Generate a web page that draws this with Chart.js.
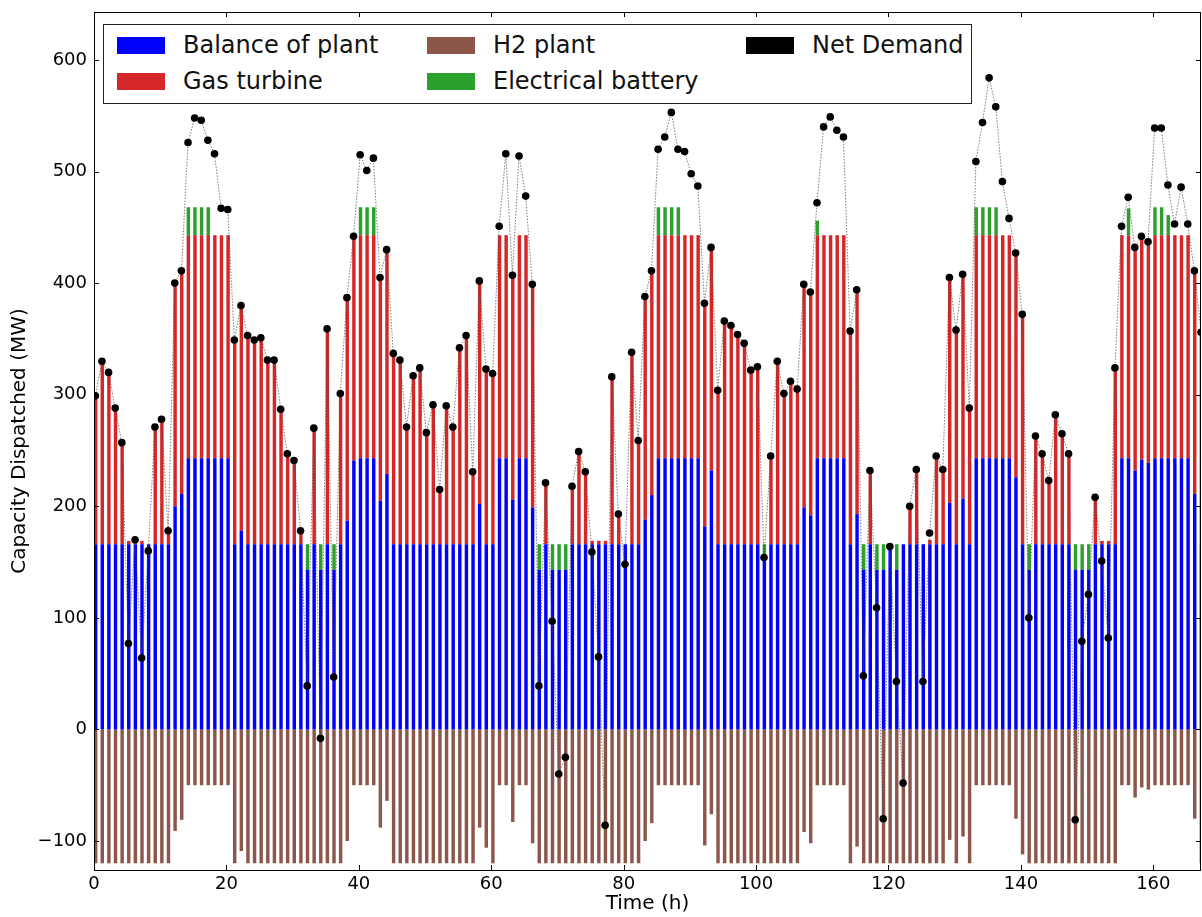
<!DOCTYPE html>
<html>
<head>
<meta charset="utf-8">
<script src="https://cdn.jsdelivr.net/npm/chart.js@4.4.0/dist/chart.umd.min.js"></script>
<style>
  html, body { margin: 0; padding: 0; background: #fff; }
  #wrap { position: relative; width: 1202px; height: 917px; }
  #legend {
    position: absolute; left: 103px; top: 24px; width: 869px; height: 80px;
    border: 1px solid #222; box-sizing: border-box; background: #fff;
    font-family: 'DejaVu Sans', sans-serif; font-size: 24px; color: #111;
  }
  .item { position: absolute; display: flex; align-items: center; white-space: nowrap; line-height: 28px; }
  .sw { width: 48px; height: 17px; margin-right: 18px; }
</style>
</head>
<body>
<div id="wrap">
  <canvas id="dispatch" width="1202" height="917"></canvas>
  <div id="legend"></div>
</div>
<script>
// hourly values (MW), hour 0 .. 167
var balanceOfPlant = [
  166,166,166,166,166,166,166,166,166,166,166,166,200,211,243,243,243,243,243,243,
  243,166,178,166,166,166,166,166,166,166,166,166,143,166,143,166,143,166,187,241,
  243,243,243,205,229,166,166,166,166,166,166,166,166,166,166,166,166,166,202,166,
  166,243,243,206,243,243,199,143,166,143,143,143,166,166,166,166,166,166,166,166,
  166,166,166,188,210,243,243,243,243,243,243,243,182,232,166,166,166,166,166,166,
  166,152,166,166,166,166,166,199,192,243,243,243,243,243,166,193,143,166,143,143,
  166,143,166,166,166,166,166,166,166,203,166,207,166,243,243,243,243,243,243,226,
  166,143,166,166,166,166,166,166,143,143,143,166,166,166,166,243,243,232,242,239,
  243,243,243,243,243,243,211,166
];
var gasTurbine = [
  133,164,154,122,91,3,4,3,0,105,112,12,200,200,200,200,200,200,200,200,
  200,183,202,187,183,185,165,165,121,81,75,12,0,104,0,193,0,135,200,202,
  200,200,200,200,201,171,165,105,151,158,100,125,49,124,105,176,187,65,200,157,
  153,200,200,201,200,200,200,0,55,0,0,0,52,83,65,3,3,3,150,27,
  0,172,93,200,201,200,200,200,200,200,200,200,200,200,138,200,196,188,180,156,
  159,0,79,164,135,146,139,200,200,200,200,200,200,200,191,200,0,66,0,0,
  0,0,0,34,67,0,4,79,67,202,192,201,122,200,200,200,200,200,200,201,
  206,0,97,81,57,116,99,81,0,0,0,42,3,3,158,200,200,200,200,198,
  200,200,200,200,200,200,200,190
];
var electricalBattery = [
  0,0,0,0,0,0,0,0,0,0,0,0,0,0,25,25,25,25,0,0,
  0,0,0,0,0,0,0,0,0,0,0,0,23,0,23,0,23,0,0,0,
  25,25,25,0,0,0,0,0,0,0,0,0,0,0,0,0,0,0,0,0,
  0,0,0,0,0,0,0,23,0,23,23,23,0,0,0,0,0,0,0,0,
  0,0,0,0,0,25,25,25,25,0,0,0,0,0,0,0,0,0,0,0,
  0,14,0,0,0,0,0,0,0,13,0,0,0,0,0,0,23,0,23,23,
  0,23,0,0,0,0,0,0,0,0,0,0,0,25,25,25,25,0,0,0,
  0,23,0,0,0,0,0,0,23,23,23,0,0,0,0,0,24,0,0,0,
  25,25,18,0,0,0,0,0
];
var h2Plant = [
  -120,-120,-120,-120,-120,-120,-120,-120,-120,-120,-120,-120,-91,-81,-50,-50,-50,-50,-50,-50,
  -50,-120,-109,-120,-120,-120,-120,-120,-120,-120,-120,-120,-120,-120,-120,-120,-120,-120,-100,-50,
  -50,-50,-50,-88,-64,-120,-120,-120,-120,-120,-120,-120,-120,-120,-120,-120,-120,-120,-88,-106,
  -120,-50,-50,-83,-50,-50,-102,-120,-120,-120,-120,-120,-120,-120,-120,-120,-120,-120,-120,-120,
  -120,-120,-120,-100,-84,-50,-50,-50,-50,-50,-50,-50,-104,-76,-120,-120,-120,-120,-120,-120,
  -120,-120,-120,-120,-120,-120,-120,-92,-102,-50,-50,-50,-50,-50,-120,-105,-120,-120,-120,-120,
  -120,-120,-120,-120,-120,-120,-120,-120,-120,-99,-120,-96,-120,-50,-50,-50,-50,-50,-50,-80,
  -112,-120,-120,-120,-120,-120,-120,-120,-120,-120,-120,-120,-120,-120,-120,-50,-50,-61,-52,-54,
  -50,-50,-50,-50,-50,-50,-80,-120
];
var netDemand = [
  299,330,320,288,257,77,170,64,160,271,278,178,400,411,526,548,546,528,516,467,
  466,349,380,353,349,351,331,331,287,247,241,178,39,270,-8,359,47,301,387,442,
  515,501,512,405,430,337,331,271,317,324,266,291,215,290,271,342,353,231,402,323,
  319,451,516,407,514,478,399,39,221,97,-40,-25,218,249,231,159,65,-86,316,193,
  148,338,259,388,411,520,531,553,520,518,498,487,382,432,304,366,362,354,346,322,
  325,154,245,330,301,312,305,399,392,472,540,549,537,531,357,394,48,232,109,-80,
  164,43,-48,200,233,43,176,245,233,405,358,408,288,509,544,584,558,491,458,427,
  372,100,263,247,223,282,265,247,-81,79,121,208,151,82,324,451,477,432,442,437,
  539,539,488,453,486,453,411,356
];
var xTickLabels = [0, 20, 40, 60, 80, 100, 120, 140, 160];
var yTickLabels = [-100, 0, 100, 200, 300, 400, 500, 600];

var series = [
  { label: 'Balance of plant', values: balanceOfPlant, color: '#0000ff' },
  { label: 'Gas turbine', values: gasTurbine, color: '#d62728' },
  { label: 'Electrical battery', values: electricalBattery, color: '#2ca02c' },
  { label: 'H2 plant', values: h2Plant, color: '#8c564b' }
];

var font = "'DejaVu Sans', sans-serif";

// inward ticks and box round the plot, old matplotlib look
var frame = {
  id: 'frame',
  afterDraw: function(chart) {
    var c = chart.ctx, a = chart.chartArea;
    var xs = chart.scales.x, ys = chart.scales.y;
    c.save();
    c.strokeStyle = '#000';
    c.lineWidth = 1;
    c.beginPath();
    xTickLabels.forEach(function(v) {
      var px = Math.round(xs.getPixelForValue(v)) + 0.5;
      c.moveTo(px, a.bottom); c.lineTo(px, a.bottom - 5);
      c.moveTo(px, a.top); c.lineTo(px, a.top + 5);
    });
    yTickLabels.forEach(function(v) {
      var py = Math.round(ys.getPixelForValue(v)) + 0.5;
      c.moveTo(a.left, py); c.lineTo(a.left + 5, py);
      c.moveTo(a.right, py); c.lineTo(a.right - 5, py);
    });
    c.stroke();
    c.strokeRect(Math.round(a.left) + 0.5, Math.round(a.top) + 0.5,
      Math.round(a.right - a.left) - 1, Math.round(a.bottom - a.top));
    c.restore();
  }
};

var datasets = [{
  type: 'line',
  label: 'Net Demand',
  data: netDemand.map(function(v, i) { return { x: i + 0.2, y: v }; }),
  stack: 'demand',
  order: 0,
  borderColor: 'rgba(70,70,70,0.7)',
  borderWidth: 1,
  borderDash: [1.5, 1.5],
  pointRadius: 3.8,
  pointBorderWidth: 0,
  pointBackgroundColor: '#000',
  tension: 0,
  fill: false
}];
series.forEach(function(s) {
  datasets.push({
    label: s.label,
    data: s.values.map(function(v, i) { return { x: i + 0.25, y: v }; }),
    backgroundColor: s.color,
    stack: 'mix',
    order: 1
  });
});

var ctx = document.getElementById('dispatch').getContext('2d');
var chart = new Chart(ctx, {
  type: 'bar',
  data: { datasets: datasets },
  options: {
    responsive: false,
    animation: false,
    devicePixelRatio: 1,
    layout: { padding: { top: 12, right: 1, left: 0, bottom: 0 }, autoPadding: false },
    plugins: { legend: { display: false }, tooltip: { enabled: false } },
    datasets: { bar: { barPercentage: 0.52, categoryPercentage: 1, borderWidth: 0 } },
    scales: {
      x: {
        type: 'linear', min: 0, max: 167.2, offset: false, stacked: true,
        grid: { display: false, drawTicks: false }, border: { display: false },
        afterBuildTicks: function(s) { s.ticks = xTickLabels.map(function(v) { return { value: v }; }); },
        afterFit: function(s) { s.height = 47; s.paddingLeft = 0; s.paddingRight = 0; },
        ticks: { color: '#000', padding: 4, maxRotation: 0, font: { family: font, size: 18 } },
        title: { display: true, text: 'Time (h)', color: '#000', padding: { top: 0, bottom: 1 }, font: { family: font, size: 20 } }
      },
      y: {
        min: -126, max: 643, stacked: true,
        grid: { display: false, drawTicks: false }, border: { display: false },
        afterBuildTicks: function(s) { s.ticks = yTickLabels.map(function(v) { return { value: v }; }); },
        afterFit: function(s) { s.width = 94; s.paddingTop = 0; s.paddingBottom = 0; },
        ticks: {
          color: '#000', padding: 7, font: { family: font, size: 18 },
          callback: function(v) { return String(v).replace('-', '\u2212'); }
        },
        title: { display: true, text: 'Capacity Dispatched (MW)', color: '#000', padding: { top: 8, bottom: 0 }, font: { family: font, size: 20 } }
      }
    }
  },
  plugins: [frame]
});

// legend in matplotlib column order
var legendItems = [
  { label: 'Balance of plant', color: '#0000ff', left: 13, top: 6 },
  { label: 'Gas turbine', color: '#d62728', left: 13, top: 42 },
  { label: 'H2 plant', color: '#8c564b', left: 323, top: 6 },
  { label: 'Electrical battery', color: '#2ca02c', left: 323, top: 42 },
  { label: 'Net Demand', color: '#000000', left: 642, top: 6 }
];
var box = document.getElementById('legend');
legendItems.forEach(function(it) {
  var d = document.createElement('div');
  d.className = 'item';
  d.style.left = it.left + 'px';
  d.style.top = it.top + 'px';
  d.innerHTML = '<span class="sw" style="background:' + it.color + '"></span><span>' + it.label + '</span>';
  box.appendChild(d);
});
</script>
</body>
</html>
